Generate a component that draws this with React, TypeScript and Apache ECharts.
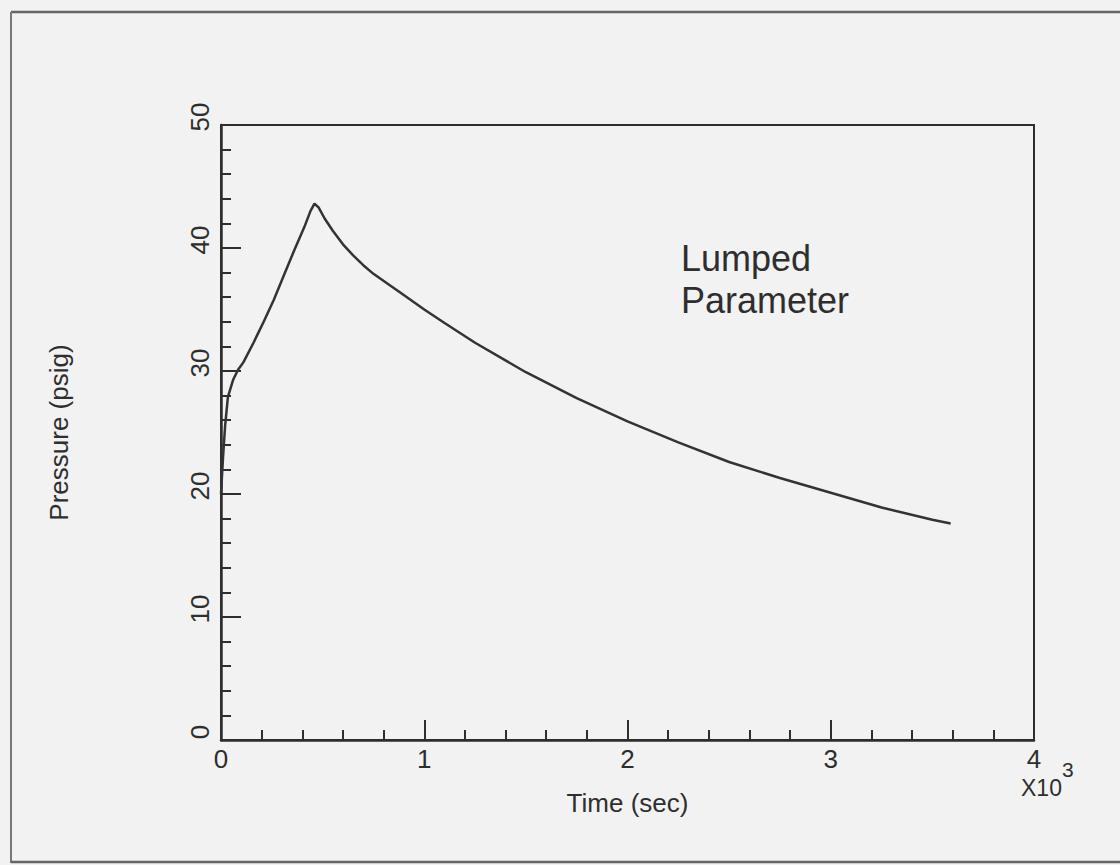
import React, { useEffect, useRef } from "react";
import * as echarts from "echarts";

const timeSec: number[] = [0, 10, 20, 34, 60, 84, 110, 160, 210, 260, 310, 360, 410, 440, 460, 480, 510, 550, 600, 650, 700, 750, 820, 880, 1000, 1100, 1250, 1500, 1750, 2000, 2250, 2500, 2750, 3000, 3250, 3500, 3590];
const pressurePsig: number[] = [20.0, 23.0, 25.5, 27.9, 29.3, 30.1, 30.7, 32.3, 34.0, 35.8, 37.8, 39.8, 41.7, 43.0, 43.6, 43.3, 42.4, 41.4, 40.3, 39.4, 38.6, 37.9, 37.1, 36.4, 35.0, 33.9, 32.3, 29.9, 27.8, 25.9, 24.2, 22.6, 21.3, 20.1, 18.9, 17.9, 17.6];
const xTickMax = 4000;
const yTickMax = 50;
const seriesLabel = "Lumped Parameter";

const FONT = '"Liberation Sans", Arial, Helvetica, sans-serif';
const INK = "#2e2e2e";

export default function App() {
  const ref = useRef<HTMLDivElement>(null);
  useEffect(() => {
    if (!ref.current) return;
    const chart = echarts.init(ref.current, undefined, { renderer: "svg" });
    const data = timeSec.map((t, i) => [t, pressurePsig[i]]);
    chart.setOption({
      animation: false,
      backgroundColor: "#f2f2f2",
      textStyle: { fontFamily: FONT },
      grid: {
        left: 221,
        top: 125,
        right: 86,
        bottom: 125,
        show: true,
        borderColor: INK,
        borderWidth: 2,
        backgroundColor: "transparent",
      },
      xAxis: {
        type: "value",
        min: 0,
        max: xTickMax,
        interval: 1000,
        name: "Time (sec)",
        nameLocation: "middle",
        nameGap: 50,
        nameTextStyle: { fontSize: 26, color: INK, fontFamily: FONT },
        axisLine: { show: true, lineStyle: { color: INK, width: 2.5 } },
        axisTick: { show: true, inside: true, length: 20, lineStyle: { color: INK, width: 2 } },
        minorTick: { show: true, splitNumber: 5, length: 10, lineStyle: { color: INK, width: 2 } },
        splitLine: { show: false },
        minorSplitLine: { show: false },
        axisLabel: {
          fontSize: 26,
          color: INK,
          margin: 6,
          fontFamily: FONT,
          formatter: (v: number) => String(v / 1000),
        },
      },
      yAxis: {
        type: "value",
        min: 0,
        max: yTickMax,
        interval: 10,
        name: "Pressure (psig)",
        nameLocation: "middle",
        nameGap: 149,
        nameTextStyle: { fontSize: 26, color: INK, fontFamily: FONT },
        axisLine: { show: true, lineStyle: { color: INK, width: 2.5 } },
        axisTick: { show: true, inside: true, length: 20, lineStyle: { color: INK, width: 2 } },
        minorTick: { show: true, splitNumber: 5, length: 10, lineStyle: { color: INK, width: 2 } },
        splitLine: { show: false },
        minorSplitLine: { show: false },
        axisLabel: {
          fontSize: 26,
          color: INK,
          margin: 8,
          rotate: 90,
          padding: [0, 0, 0, 16],
          fontFamily: FONT,
        },
      },
      series: [
        {
          type: "line",
          name: seriesLabel,
          data,
          showSymbol: false,
          smooth: false,
          lineStyle: { color: "#333333", width: 2.5 },
        },
      ],
      graphic: [
        { type: "line", shape: { x1: 11, y1: 12, x2: 1120, y2: 12 }, style: { stroke: "#666", lineWidth: 2.5 } },
        { type: "line", shape: { x1: 11, y1: 12, x2: 11, y2: 863 }, style: { stroke: "#777", lineWidth: 2 } },
        { type: "line", shape: { x1: 11, y1: 862, x2: 1120, y2: 862 }, style: { stroke: "#666", lineWidth: 2.5 } },
        {
          type: "text",
          x: 681,
          y: 240,
          style: { text: "Lumped", font: `36px ${FONT}`, fill: INK, textVerticalAlign: "top" },
        },
        {
          type: "text",
          x: 681,
          y: 282,
          style: { text: "Parameter", font: `36px ${FONT}`, fill: INK, textVerticalAlign: "top" },
        },
        {
          type: "text",
          x: 1021,
          y: 776,
          style: { text: "X10", font: `23px ${FONT}`, fill: INK, textVerticalAlign: "top" },
        },
        {
          type: "text",
          x: 1062,
          y: 759,
          style: { text: "3", font: `21px ${FONT}`, fill: INK, textVerticalAlign: "top" },
        },
      ],
    });
    return () => chart.dispose();
  }, []);
  return (
    <div
      ref={ref}
      style={{ position: "fixed", left: 0, top: 0, width: 1120, height: 865 }}
    />
  );
}
